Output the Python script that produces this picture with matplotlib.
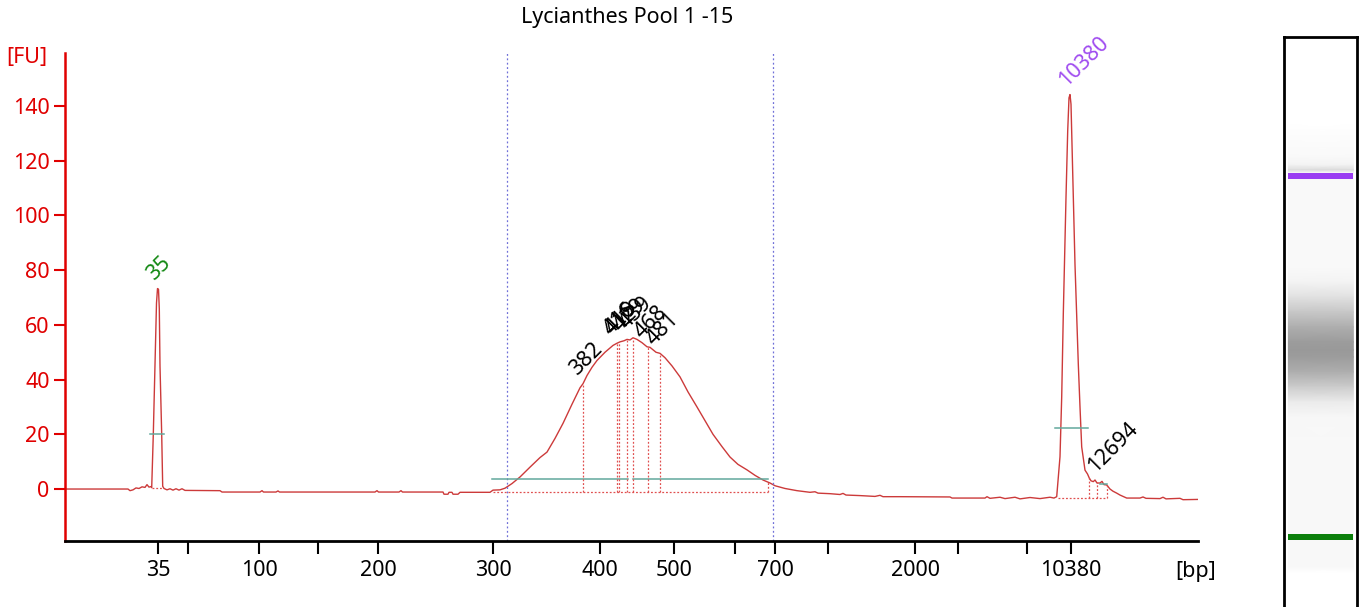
"""Bioanalyzer style electropherogram: Lycianthes Pool 1 -15."""
import matplotlib
matplotlib.use("Agg")
import matplotlib.pyplot as plt
import numpy as np

plt.rcParams["font.family"] = ["Noto Sans", "DejaVu Sans"]

TITLE = "Lycianthes Pool 1 -15"

# migration time [s] and fluorescence [FU]
trace_t = [
    36.5, 42.8, 43.0, 43.3, 43.6, 43.9, 44.2, 44.5, 44.7, 44.9, 45.1,
    45.17, 45.33, 45.5, 45.65, 45.75, 45.85, 45.93, 46.0, 46.17, 46.27, 46.4,
    46.7, 47.0, 47.3, 47.6, 47.9, 48.2, 48.5, 52.0, 52.2, 56.0, 56.2, 56.35,
    57.6, 57.8, 57.95, 67.5, 67.7, 67.85, 69.9, 70.1, 70.25, 74.3, 74.4,
    74.8, 74.9, 75.2, 75.3, 75.8, 76.0, 79.0, 79.3, 80.0, 80.5, 81.2, 82.0,
    83.0, 84.0, 84.7, 85.5, 86.3, 87.2, 88.0, 88.3, 88.7, 89.2, 89.7, 90.5,
    91.3, 91.7, 92.0, 92.4, 92.7, 93.0, 93.3, 93.7, 94.2, 94.7, 95.0, 95.2,
    95.6, 96.0, 96.5, 97.2, 98.0, 98.8, 99.7, 100.5, 101.3, 102.2, 103.0,
    103.8, 104.7, 105.5, 106.3, 106.8, 107.0, 107.5, 108.5, 109.7, 111.0,
    111.5, 111.8, 113.0, 114.0, 114.3, 114.6, 116.0, 117.5, 118.0, 118.3,
    120.0, 125.0, 125.2, 126.0, 128.5, 128.7, 129.0, 130.0, 130.5, 131.5,
    132.0, 133.0, 134.0, 135.0, 135.4, 135.67, 136.0, 136.17, 136.33, 136.6,
    136.77, 136.9, 137.0, 137.1, 137.27, 137.5, 137.83, 138.0, 138.17, 138.5,
    138.75, 138.93, 139.1, 139.33, 139.5, 139.7, 140.0, 140.2, 140.4, 140.67,
    141.0, 141.3, 141.67, 142.0, 142.67, 144.0, 144.3, 144.6, 146.0, 146.3,
    146.6, 148.0, 148.3, 149.8,
]
trace_fu = [
    0.0, 0.0, -0.6, -0.3, 0.4, 0.2, 0.8, 0.6, 1.6, 0.7, 0.9,
    0.5, 20, 45, 68, 73.3, 73, 66, 45, 20, 1.0, 0.2,
    -0.3, 0.1, -0.4, 0.1, -0.4, 0.1, -0.5, -0.6, -1.1, -1.1, -0.6, -1.1,
    -1.1, -0.7, -1.1, -1.1, -0.6, -1.1, -1.1, -0.6, -1.1, -1.1, -1.9,
    -1.9, -1.2, -1.2, -1.9, -1.9, -1.2, -1.2, -0.4, -0.3, 0.3, 2.0, 4.4,
    8.0, 11.5, 13.5, 18.5, 24.0, 31.0, 37.0, 38.5, 41.5, 44.5, 47.0, 50.0,
    52.5, 53.3, 53.8, 54.2, 54.7, 54.5, 55.3, 54.7, 53.5, 52.0, 51.8, 51.2,
    50.0, 49.6, 48.0, 45.0, 41.0, 35.5, 30.0, 25.0, 20.0, 15.5, 11.7,
    9.0, 7.0, 5.0, 3.3, 2.5, 2.2, 1.2, 0.2, -0.6, -1.2,
    -1.0, -1.5, -1.7, -2.0, -1.6, -2.2, -2.4, -2.7, -2.3, -2.8,
    -2.8, -2.9, -3.3, -3.3, -3.3, -2.8, -3.4, -3.0, -3.5, -3.0,
    -3.6, -3.1, -3.5, -3.0, -3.3, -2.8, 11.8, 33.6, 64.0, 106.6,
    130.9, 143.0, 144.2, 140.7, 116.0, 82.0, 45.7, 30.0, 15.4, 6.9,
    5.5, 4.0, 3.0, 2.7, 3.3, 2.2, 2.2, 2.8, 1.6, 1.5,
    0.0, -0.8, -1.5, -2.2, -3.3, -3.3, -2.9, -3.4, -3.5, -3.0,
    -3.6, -3.4, -3.9, -3.8,
]

# ladder sizes on the x axis (empty label = tick only)
tick_t = [45.8, 48.8, 55.9, 61.8, 67.8, 79.3, 90.0, 97.4, 103.5, 107.5,
          112.8, 121.5, 125.8, 132.7, 137.1]
tick_labels = ["35", "", "100", "", "200", "300", "400", "500", "", "700",
               "", "2000", "", "", "10380"]

# markers
marker_t = [45.8, 137.0]
marker_fu = [73.3, 144.2]
marker_labels = ["35", "10380"]
marker_colors = ["#118811", "#a04cf0"]
marker_width_fu = [20.0, 22.2]
marker_width_t = [(45.0, 46.35), (135.5, 138.83)]

# called peaks in the smear
peak_t = [88.3, 91.7, 91.9, 92.7, 93.3, 94.8, 96.0]
peak_fu = [38.5, 53.3, 53.6, 54.7, 55.2, 52.0, 49.6]
peak_labels = ["382", "416", "419", "429", "439", "468", "481"]

# small peak on the upper marker shoulder
shoulder_t = [138.93, 139.73, 140.7]
shoulder_fu = [4.0, 2.4, 1.5]
shoulder_label = "12694"

# region of interest and its baseline
region_t = (80.7, 107.3)
smear_base_t = (79.3, 106.8)
smear_base_fu = -1.2
smear_bar_fu = 3.6
smear_bar_gap = (92.75, 93.25)

# gel lane: distance from lane top [px-like units] and grey level
lane_pos = [85, 100, 120, 128, 133, 136, 150, 230, 245, 260, 275, 290, 305,
            313, 320, 335, 350, 365, 380, 420, 480, 530, 536]
lane_grey = [1.0, 0.985, 0.975, 0.95, 0.86, 0.97, 0.975, 0.975, 0.95, 0.88,
             0.78, 0.68, 0.61, 0.60, 0.61, 0.68, 0.80, 0.92, 0.965, 0.97,
             0.97, 0.97, 1.0]
lane_bands = [(136, 142), (497, 503)]
lane_band_colors = ["#9a3df2", "#0b7f0b"]

RED = "#e00000"
TRACE = "#cc3a3a"
TEAL = "#62a89c"
DROP = "#e05050"
FS = 15.5

fig = plt.figure(figsize=(13.61, 6.07), dpi=100)
ax = fig.add_axes([65 / 1361, 66 / 607, 1133 / 1361, 488 / 607])

ax.plot(trace_t, trace_fu, color=TRACE, lw=1.0)

for t in region_t:
    ax.axvline(t, color="#6f6fd8", lw=0.9, ls=(0, (1.5, 2)))

# smear baseline, bar and peak drops
ax.plot(smear_base_t, [smear_base_fu] * 2, color=DROP, lw=0.9, ls=(0, (1.5, 1.5)))
ax.plot([smear_base_t[1]] * 2, [smear_base_fu, 2.5], color=DROP, lw=0.9, ls=(0, (1.5, 1.5)))
ax.plot([79.2, smear_bar_gap[0]], [smear_bar_fu] * 2, color=TEAL, lw=1.1)
ax.plot([smear_bar_gap[1], 106.8], [smear_bar_fu] * 2, color=TEAL, lw=1.1)
ax.vlines(peak_t, smear_base_fu, peak_fu, color=DROP, lw=0.9, ls=(0, (1.5, 1.5)))
for t, fu, lab in zip(peak_t, peak_fu, peak_labels):
    ax.annotate(lab, (t, fu), xytext=(-2, 3), textcoords="offset points",
                rotation=45, rotation_mode="anchor", ha="left", va="bottom",
                fontsize=FS, color="black")

# markers
for t, fu, lab, col, wfu, wt in zip(marker_t, marker_fu, marker_labels,
                                    marker_colors, marker_width_fu, marker_width_t):
    ax.plot(wt, [wfu, wfu], color=TEAL, lw=1.1)
    ax.annotate(lab, (t, fu), xytext=(0, 3), textcoords="offset points",
                rotation=45, rotation_mode="anchor", ha="left", va="bottom",
                fontsize=FS, color=col)
ax.plot([45.15, 46.3], [0.3, 0.3], color=DROP, lw=0.9, ls=(0, (1.5, 1.5)))

# shoulder peak
ax.plot([135.8, shoulder_t[-1]], [-3.3, -3.3], color=DROP, lw=0.9, ls=(0, (1.5, 1.5)))
ax.vlines(shoulder_t, -3.3, shoulder_fu, color=DROP, lw=0.9, ls=(0, (1.5, 1.5)))
ax.plot([140.0, 140.7], [1.8, 1.8], color=TEAL, lw=1.1)
ax.annotate(shoulder_label, (shoulder_t[0], shoulder_fu[0]), xytext=(7, 1),
            textcoords="offset points", rotation=45, rotation_mode="anchor",
            ha="left", va="bottom", fontsize=FS, color="black")

ax.set_xlim(36.5, 149.8)
ax.set_ylim(-19, 159.4)
ax.set_xticks(tick_t)
ax.set_xticklabels(tick_labels)
ax.set_yticks(range(0, 141, 20))
for s in ("top", "right"):
    ax.spines[s].set_visible(False)
ax.spines["left"].set_color(RED)
ax.spines["left"].set_linewidth(1.8)
ax.spines["bottom"].set_linewidth(2.0)
ax.tick_params(axis="x", length=9, width=1.5, pad=5, labelsize=FS)
ax.tick_params(axis="y", length=8, width=1.5, pad=3, labelsize=FS,
               colors=RED)

fig.text(627 / 1361, 1 - 18 / 607, TITLE, ha="center", va="center", fontsize=FS)
fig.text(27 / 1361, 1 - 57 / 607, "[FU]", ha="center", va="center", fontsize=FS, color=RED)
fig.text(1196 / 1361, 1 - 572 / 607, "[bp]", ha="center", va="center", fontsize=FS)

# gel lane
lax = fig.add_axes([1284 / 1361, 0, 73 / 1361, 570 / 607])
lax.set_xlim(0, 1)
lax.set_ylim(570, 0)
lax.set_xticks([])
lax.set_yticks([])
lax.spines["bottom"].set_visible(False)
for s in ("top", "left", "right"):
    lax.spines[s].set_linewidth(2.0)
inner = (0.06, 0.95)
grey = np.array(lane_grey)
lax.pcolormesh(list(inner), lane_pos, np.column_stack([grey, grey]),
               cmap="gray", vmin=0, vmax=1, shading="gouraud")
for (y0, y1), col in zip(lane_bands, lane_band_colors):
    lax.fill_between(inner, y0, y1, color=col, lw=0)

fig.savefig("out.png", dpi=100)
